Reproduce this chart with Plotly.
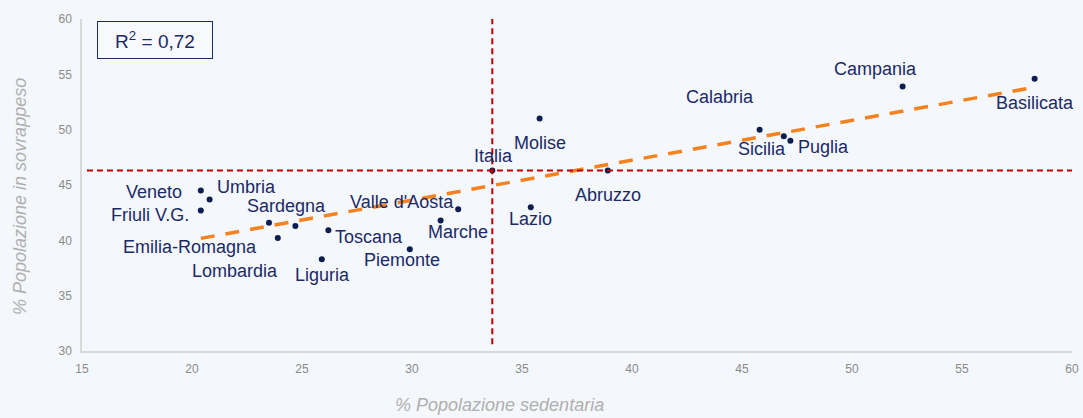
import numpy as np
import plotly.graph_objects as go

regions = ["Veneto", "Umbria", "Friuli V.G.", "Sardegna", "Emilia-Romagna", "Lombardia",
           "Liguria", "Toscana", "Piemonte", "Marche", "Valle d'Aosta", "Molise",
           "Abruzzo", "Lazio", "Calabria", "Sicilia", "Puglia", "Campania", "Basilicata"]
sedentary = [20.4, 20.8, 20.4, 24.7, 23.5, 23.9, 25.9, 26.2, 29.9, 31.3, 32.1, 35.8,
             38.9, 35.4, 45.8, 46.9, 47.2, 52.3, 58.3]
overweight = [44.5, 43.7, 42.7, 41.3, 41.6, 40.2, 38.3, 40.9, 39.2, 41.8, 42.8, 51.0,
              46.3, 43.0, 50.0, 49.4, 49.0, 53.9, 54.6]
italia_label = "Italia"
italia_x = 33.65
italia_y = 46.3
r2_text = "R<sup>2</sup> = 0,72"

# label offsets in pixels (x right, y up)
offsets = {
    "Veneto": (-47, -1), "Umbria": (37, 12), "Friuli V.G.": (-51, -5),
    "Sardegna": (-9, 20), "Emilia-Romagna": (-79, -24), "Lombardia": (-43, -33),
    "Liguria": (1, -16), "Toscana": (41, -7), "Piemonte": (-8, -11),
    "Marche": (17, -12), "Valle d'Aosta": (-56, 7), "Molise": (0, -24),
    "Abruzzo": (0, -24), "Lazio": (0, -12), "Calabria": (-40, 33),
    "Sicilia": (-22, -13), "Puglia": (33, -6), "Campania": (-27, 18),
    "Basilicata": (0, -24), "Italia": (1, 15),
}

NAVY = "#0B1D51"
TEXT = "#1B2A66"
RED = "#C00000"
ORANGE = "#F5821F"
BG = "#F4F7FC"
FONT = "Liberation Sans, Arial"

x_arr = np.array(sedentary)
y_arr = np.array(overweight)
slope, intercept = np.polyfit(x_arr, y_arr, 1)
tx = np.array([x_arr.min(), x_arr.max()])
ty = slope * tx + intercept

fig = go.Figure()

fig.add_trace(go.Scatter(x=tx, y=ty, mode="lines",
                         line=dict(color=ORANGE, width=3.5, dash="14px,11px"),
                         hoverinfo="skip", showlegend=False))
fig.add_trace(go.Scatter(x=sedentary + [italia_x], y=overweight + [italia_y], mode="markers",
                         marker=dict(color=NAVY, size=6),
                         text=regions + [italia_label], showlegend=False))

for name, xv, yv in zip(regions + [italia_label], sedentary + [italia_x], overweight + [italia_y]):
    dx, dy = offsets[name]
    fig.add_annotation(x=xv, y=yv, text=name, showarrow=False, xshift=dx, yshift=dy,
                       font=dict(family=FONT, size=18, color=TEXT))

fig.add_shape(type="line", xref="paper", yref="y", x0=0.005, x1=1, y0=italia_y, y1=italia_y,
              line=dict(color=RED, width=2, dash="6px,4px"), layer="above")
fig.add_shape(type="line", xref="x", yref="paper", x0=italia_x, x1=italia_x, y0=0.02, y1=1,
              line=dict(color=RED, width=2, dash="6px,4px"), layer="above")

fig.add_annotation(xref="paper", yref="paper", x=0.0155, y=0.995, xanchor="left", yanchor="top",
                   text=r2_text, showarrow=False, bordercolor="#1B2A66", borderwidth=1,
                   borderpad=7, bgcolor="rgba(255,255,255,0.3)", width=100, height=22,
                   font=dict(family=FONT, size=19, color=TEXT))

fig.add_annotation(xref="paper", yref="paper", x=0.422, y=-0.163, xanchor="center", yanchor="middle",
                   text="% Popolazione sedentaria", showarrow=False,
                   font=dict(family=FONT, size=18, color="#AFAFAF", style="italic"))
fig.add_annotation(xref="paper", yref="paper", x=-0.0626, y=0.464, textangle=-90,
                   xanchor="center", yanchor="middle",
                   text="% Popolazione in sovrappeso", showarrow=False,
                   font=dict(family=FONT, size=18, color="#AFAFAF", style="italic"))

tickfont = dict(family="Liberation Sans Narrow, Arial Narrow, Liberation Sans", size=12, color="#8A8A8A")
fig.update_xaxes(range=[15, 60], dtick=5, showgrid=False, zeroline=False, showline=True,
                 linecolor="#D9D9D9", linewidth=1.5, ticks="", tickfont=tickfont, ticklabelstandoff=6)
fig.update_yaxes(range=[30, 60], dtick=5, showgrid=False, zeroline=False, showline=True,
                 linecolor="#D9D9D9", linewidth=1.5, ticks="", tickfont=tickfont, ticklabelstandoff=6)

fig.update_layout(width=1083, height=418, autosize=False,
                  margin=dict(l=82, r=11, t=19, b=67, autoexpand=False),
                  paper_bgcolor=BG, plot_bgcolor=BG, showlegend=False)

fig.write_html("out.html",
               config={"displayModeBar": False, "responsive": False},
               post_script=("document.documentElement.style.overflow='hidden';"
                            "document.body.style.margin='0';"
                            "document.body.style.background='%s';" % BG))
